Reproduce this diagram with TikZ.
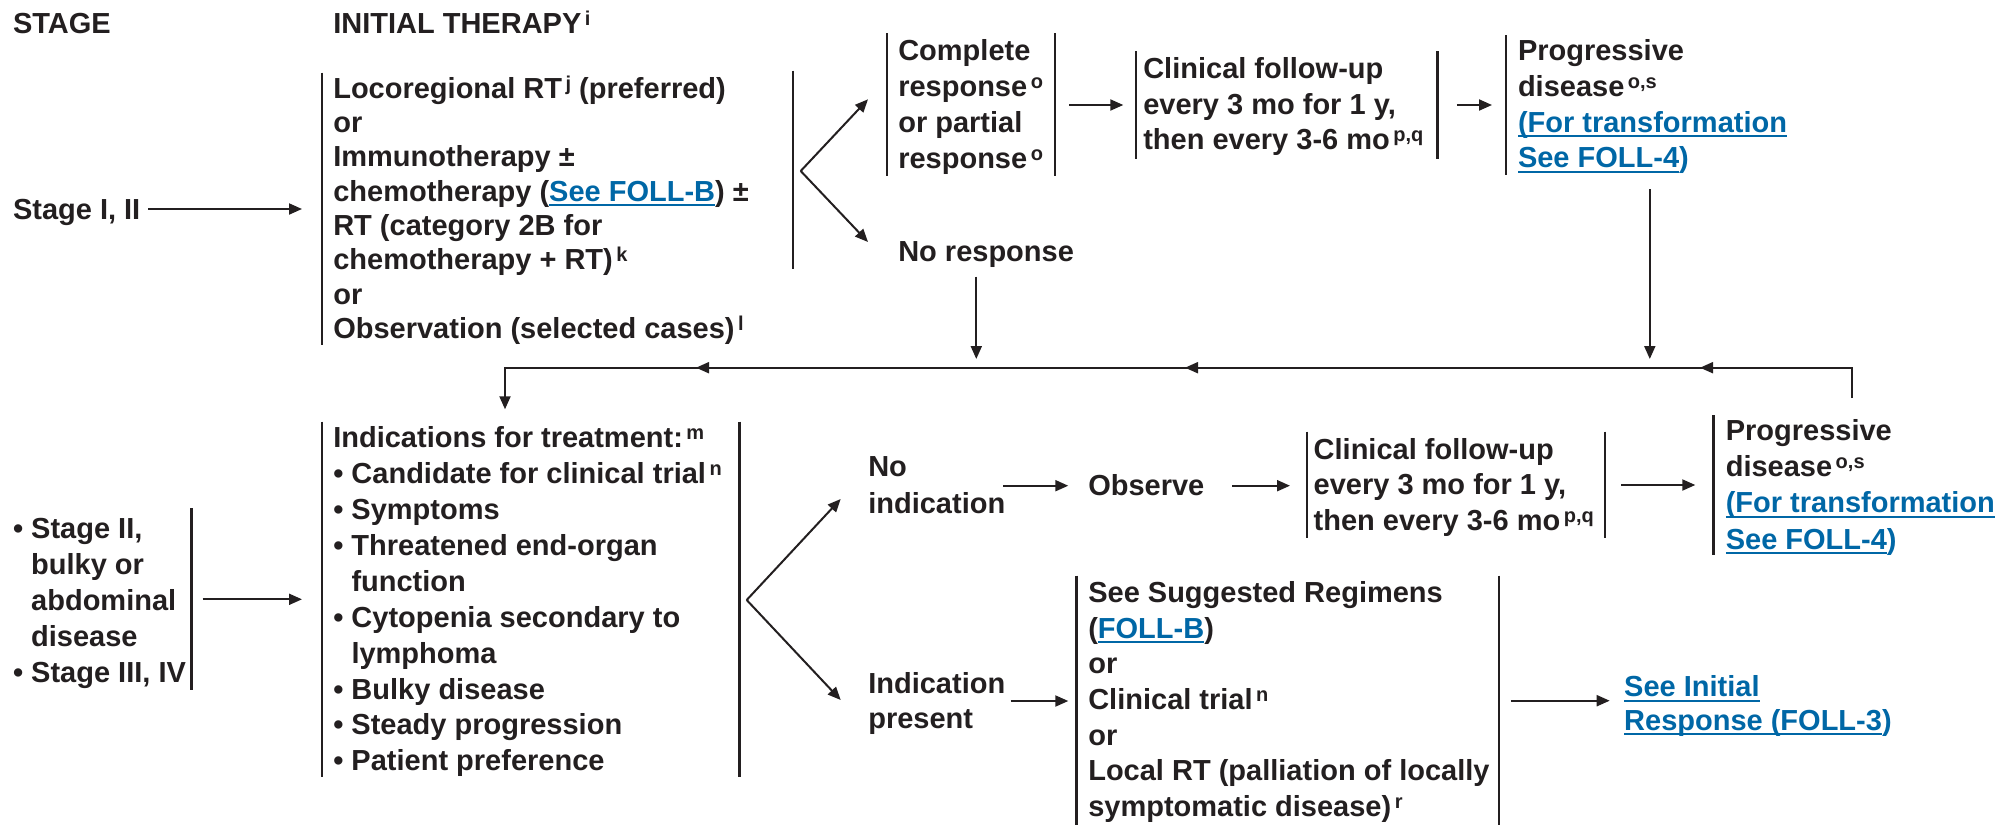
\documentclass[tikz,border=0pt]{standalone}
\usepackage{fontspec}
\setmainfont{Liberation Sans}
\usetikzlibrary{arrows.meta}
\definecolor{textc}{HTML}{231F20}
\definecolor{linkblue}{HTML}{0067A6}
\newcommand\sps[1]{\kern3.5pt\raisebox{8pt}{\fontsize{20}{20}\selectfont #1}}
\newcommand\lnk[1]{{\color{linkblue}\sbox0{#1}\rlap{\rule[-5pt]{\wd0}{1.8pt}}\usebox0}}
\newcommand\ml[1]{\begin{tabular}[t]{@{}l@{}}#1\end{tabular}}
\begin{document}
\begin{tikzpicture}[x=1pt,y=-1pt,
  txt/.style={anchor=base west,inner sep=0pt,outer sep=0pt,text=textc,font=\fontsize{29}{#1}\selectfont\bfseries},
  txt/.default=35.8,
  brk/.style={line width=2.4pt,draw=textc},
  conn/.style={line width=2pt,draw=textc,-{Triangle[length=13pt,width=11pt]}}]
\useasboundingbox (0,0) rectangle (2014,825);

% headers
\node[txt] (hstage) at (13,33) {STAGE};
\node[txt] (hinit) at (333.3,33) {INITIAL THERAPY\sps{i}};

% ---------- top row ----------
\node[txt] (s12) at (13,219) {Stage I, II};
\node[txt=34.3] (init) at (333.3,98.3) {\ml{Locoregional RT\sps{j} (preferred)\\or\\Immunotherapy ±\\chemotherapy (\lnk{See FOLL-B}) ±\\RT (category 2B for\\chemotherapy + RT)\sps{k}\\or\\Observation (selected cases)\sps{l}}};
\draw[brk] (321.7,72.7) -- (321.7,345);
\draw[brk] (792.7,70.7) -- (792.7,269.3);

\node[txt=35.9] (cr) at (898.3,60.7) {\ml{Complete\\response\sps{o}\\or partial\\response\sps{o}}};
\draw[brk] (886.7,33) -- (886.7,176);
\draw[brk] (1055,33) -- (1055,176);

\node[txt=35.8] (cf1) at (1143.3,78.3) {\ml{Clinical follow-up\\every 3 mo for 1 y,\\then every 3-6 mo\sps{p,q}}};
\draw[brk] (1136,51) -- (1136,159);
\draw[brk] (1437.6,51) -- (1437.6,159);

\node[txt=35.7] (pd1) at (1518,60.7) {\ml{Progressive\\disease\sps{o,s}\\\lnk{(For transformation}\\\lnk{See FOLL-4}{\color{linkblue})}}};
\draw[brk] (1505.7,35) -- (1505.7,175);

\node[txt] (nr) at (898.3,261.7) {No response};

% top connectors
\coordinate (a1s) at (148,209);   \coordinate (a1e) at (302,209);
\draw[conn] (a1s) -- (a1e);
\coordinate (v1) at (800.7,171);
\coordinate (v1u) at (868,99.3);  \coordinate (v1d) at (868,242);
\draw[conn] (v1) -- (v1u);
\draw[conn] (v1) -- (v1d);
\coordinate (a2s) at (1069.3,105); \coordinate (a2e) at (1123.3,105);
\draw[conn] (a2s) -- (a2e);
\coordinate (a3s) at (1456.8,105); \coordinate (a3e) at (1492,105);
\draw[conn] (a3s) -- (a3e);
\coordinate (nrd) at (976.3,276.7); \coordinate (nre) at (976.3,359);
\draw[conn] (nrd) -- (nre);
\coordinate (pdd) at (1649.8,189); \coordinate (pde) at (1649.8,359);
\draw[conn] (pdd) -- (pde);

% feedback loop
\coordinate (fbR) at (1852,398);
\coordinate (fbC) at (1852,367.7);
\coordinate (fbL) at (505,367.7);
\coordinate (fbD) at (505,409.3);
\draw[conn] (fbR) -- (fbC) -- (fbL) -- (fbD);
\coordinate (m1s) at (1713,367.7); \coordinate (m1) at (1700,367.7);
\coordinate (m2s) at (1198,367.7); \coordinate (m2) at (1185,367.7);
\coordinate (m3s) at (709,367.7);  \coordinate (m3) at (696,367.7);
\draw[conn] (m1s) -- (m1);
\draw[conn] (m2s) -- (m2);
\draw[conn] (m3s) -- (m3);

% ---------- bottom row ----------
\node[txt=36.2] (s34) at (13,538) {\ml{• Stage II,\\\phantom{• }bulky or\\\phantom{• }abdominal\\\phantom{• }disease\\• Stage III, IV}};
\draw[brk] (191.3,508) -- (191.3,690);

\node[txt=35.9] (ind) at (333.3,447.7) {\ml{Indications for treatment:\sps{m}\\• Candidate for clinical trial\sps{n}\\• Symptoms\\• Threatened end-organ\\\phantom{• }function\\• Cytopenia secondary to\\\phantom{• }lymphoma\\• Bulky disease\\• Steady progression\\• Patient preference}};
\draw[brk] (321.7,421.7) -- (321.7,777.3);
\draw[brk] (739.3,421.7) -- (739.3,777.3);

\node[txt=36.6] (ni) at (868.3,476.7) {\ml{No\\indication}};
\node[txt] (obs) at (1088.3,495) {Observe};
\node[txt=35.4] (cf2) at (1313.7,459.3) {\ml{Clinical follow-up\\every 3 mo for 1 y,\\then every 3-6 mo\sps{p,q}}};
\draw[brk] (1306.8,431.7) -- (1306.8,538.3);
\draw[brk] (1605,431.7) -- (1605,538.3);
\node[txt=36.4] (pd2) at (1725.8,440) {\ml{Progressive\\disease\sps{o,s}\\\lnk{(For transformation}\\\lnk{See FOLL-4}{\color{linkblue})}}};
\draw[brk] (1713.5,415) -- (1713.5,555);

\node[txt=35] (ip) at (868.3,693.3) {\ml{Indication\\present}};
\node[txt=35.7] (reg) at (1088.3,602.3) {\ml{See Suggested Regimens\\(\lnk{FOLL-B})\\or\\Clinical trial\sps{n}\\or\\Local RT (palliation of locally\\symptomatic disease)\sps{r}}};
\draw[brk] (1076.3,575.7) -- (1076.3,825);
\draw[brk] (1499,575.7) -- (1499,825);
\node[txt=33.3] (sir) at (1624.2,696.7) {\ml{\lnk{See Initial}\\\lnk{Response (FOLL-3}{\color{linkblue})}}};

% bottom connectors
\coordinate (b1s) at (202.6,599.3); \coordinate (b1e) at (302,599.3);
\draw[conn] (b1s) -- (b1e);
\coordinate (v2) at (746.7,600);
\coordinate (v2u) at (840.7,499); \coordinate (v2d) at (840.7,700);
\draw[conn] (v2) -- (v2u);
\draw[conn] (v2) -- (v2d);
\coordinate (b2s) at (1003.3,485.7); \coordinate (b2e) at (1068.3,485.7);
\draw[conn] (b2s) -- (b2e);
\coordinate (b3s) at (1232.3,485.7); \coordinate (b3e) at (1290,485.7);
\draw[conn] (b3s) -- (b3e);
\coordinate (b4s) at (1621,485); \coordinate (b4e) at (1695.3,485);
\draw[conn] (b4s) -- (b4e);
\coordinate (b5s) at (1010.7,701); \coordinate (b5e) at (1068.3,701);
\draw[conn] (b5s) -- (b5e);
\coordinate (b6s) at (1510.8,700.7); \coordinate (b6e) at (1609.7,700.7);
\draw[conn] (b6s) -- (b6e);
\end{tikzpicture}
\end{document}
